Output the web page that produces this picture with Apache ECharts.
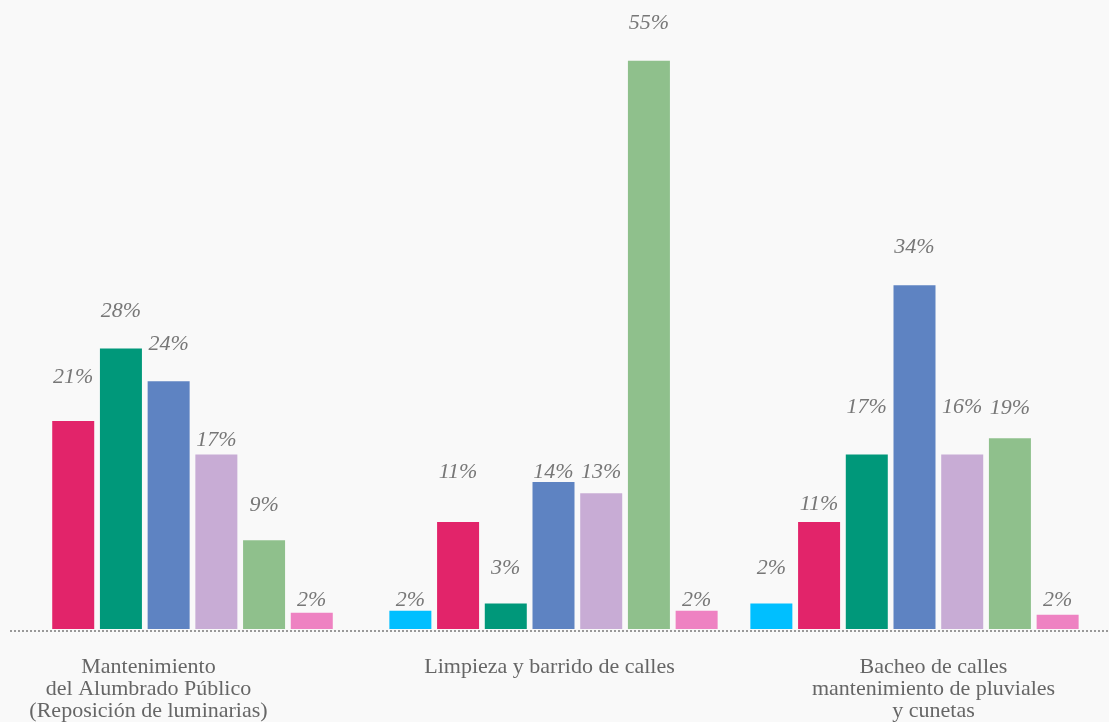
<!DOCTYPE html>
<html>
<head>
<meta charset="utf-8">
<script src="https://cdn.jsdelivr.net/npm/echarts@6/dist/echarts.min.js"></script>
<style>
  html, body { margin: 0; padding: 0; background: #f9f9f9; }
  #chart { width: 1109px; height: 722px; }
</style>
</head>
<body>
<div id="chart"></div>
<script>
// categories
const categories = [
  'Mantenimiento\ndel Alumbrado Público\n(Reposición de luminarias)',
  'Limpieza y barrido de calles',
  'Bacheo de calles\nmantenimiento de pluviales\ny cunetas'
];

// bar heights, one array per series (null = no bar in that group)
const cyanValues    = [null, 1.8, 2.5];
const crimsonValues = [20.4, 10.5, 10.5];
const tealValues    = [27.5, 2.5, 17.1];
const blueValues    = [24.3, 14.4, 33.7];
const lilacValues   = [17.1, 13.3, 17.1];
const greenValues   = [8.7, 55.7, 18.7];
const pinkValues    = [1.6, 1.8, 1.4];

// printed percentages
const cyanLabels    = [null, 2, 2];
const crimsonLabels = [21, 11, 11];
const tealLabels    = [28, 3, 17];
const blueLabels    = [24, 14, 34];
const lilacLabels   = [17, 13, 16];
const greenLabels   = [9, 55, 19];
const pinkLabels    = [2, 2, 2];

const barValues = [cyanValues, crimsonValues, tealValues, blueValues, lilacValues, greenValues, pinkValues];
const barLabels = [cyanLabels, crimsonLabels, tealLabels, blueLabels, lilacLabels, greenLabels, pinkLabels];
const colors = ['#00bfff', '#e2246a', '#00987a', '#5e83c2', '#c8acd5', '#8fc08c', '#ee82c2'];

// distance (px) from bar top to centre of its label
const labelGaps = [
  [0, 10, 35], [44, 50, 18], [37, 35, 47], [37, 10, 38],
  [14, 21, 47], [35, 38, 30], [12, 10, 15]
];

const chart = echarts.init(document.getElementById('chart'));

function makeSeries(s, axisIndex, cats) {
  return {
    type: 'bar',
    xAxisIndex: axisIndex,
    yAxisIndex: 0,
    barWidth: 42,
    barGap: '13.6%',
    itemStyle: { color: colors[s] },
    label: {
      show: true,
      position: 'top',
      verticalAlign: 'middle',
      fontFamily: 'Liberation Serif',
      fontStyle: 'italic',
      fontSize: 22,
      color: '#777',
      formatter: p => barLabels[s][p.dataIndex] + '%'
    },
    data: categories.map((c, i) => {
      if (cats.indexOf(i) < 0 || barValues[s][i] == null) return '-';
      return { value: barValues[s][i], label: { distance: labelGaps[s][i] } };
    })
  };
}

const series = [];
// first group has its own axis so its six bars sit centred
for (let s = 0; s < 7; s++) {
  if (barValues[s][0] != null) series.push(makeSeries(s, 0, [0]));
}
for (let s = 0; s < 7; s++) series.push(makeSeries(s, 1, [1, 2]));

const labelFont = { fontFamily: 'Liberation Serif', fontSize: 22, lineHeight: 22, color: '#666' };

const option = {
  backgroundColor: '#f9f9f9',
  animation: false,
  grid: [
    { left: 12, right: 14, top: 17, bottom: 93 },
    { left: 10, right: 0, top: 17, bottom: 91 }
  ],
  xAxis: [
    {
      type: 'category',
      gridIndex: 0,
      data: categories,
      axisLine: { show: false },
      axisTick: { show: false },
      axisLabel: {
        interval: 0,
        margin: 27,
        ...labelFont,
        formatter: (val, idx) => val.split('\n').map(l => '{c' + idx + '|' + l + '}').join('\n'),
        rich: {
          c0: { ...labelFont, padding: [0, 88, 0, 0] },
          c1: { ...labelFont, padding: [0, 8, 0, 0] },
          c2: { ...labelFont, padding: [0, 0, 0, 38] }
        }
      }
    },
    { type: 'category', gridIndex: 0, data: categories, show: false },
    {
      type: 'category',
      gridIndex: 1,
      data: [''],
      axisTick: { show: false },
      axisLabel: { show: false },
      axisLine: { lineStyle: { color: '#999', width: 2, type: 'dotted', cap: 'butt' } },
      z: 5
    }
  ],
  yAxis: [
    { type: 'value', gridIndex: 0, min: 0, max: 60, show: false },
    { type: 'value', gridIndex: 1, min: 0, max: 1, show: false }
  ],
  series: series
};

chart.setOption(option);
</script>
</body>
</html>
